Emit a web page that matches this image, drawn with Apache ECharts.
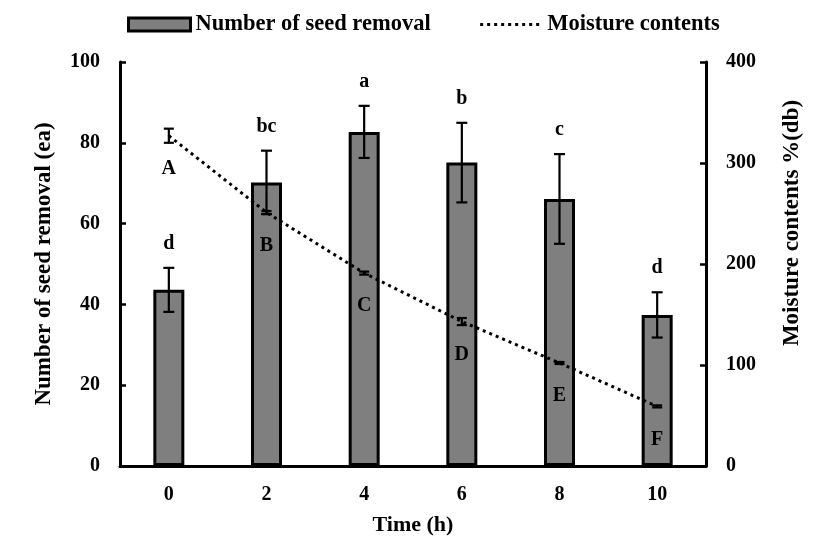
<!DOCTYPE html>
<html><head><meta charset="utf-8">
<script src="https://cdn.jsdelivr.net/npm/echarts@6/dist/echarts.min.js"></script>
<style>html,body{margin:0;padding:0;background:#fff}#c{width:827px;height:556px}</style>
</head><body><div id="c"></div>
<script>
const categories = ['0', '2', '4', '6', '8', '10'];
const seedRemoval = [43.6, 70.2, 82.7, 75.1, 66.1, 37.4];
const seedRemovalErr = [5.45, 7.85, 6.45, 9.85, 11.1, 5.6];
const seedLetters = ['d', 'bc', 'a', 'b', 'c', 'd'];
const moisture = [327, 251, 191, 143, 102, 59];
const moistureErr = [7, 1.5, 1.5, 3.5, 1, 1];
const moistureLetters = ['A', 'B', 'C', 'D', 'E', 'F'];
const leftTicks = [0, 20, 40, 60, 80, 100];
const rightTicks = [0, 100, 200, 300, 400];

const FF = '"Liberation Serif","Times New Roman",serif';
const chart = echarts.init(document.getElementById('c'));

function errRender(errArr, letters, below, cap) {
  return function (params, api) {
    const i = api.value(0), v = api.value(1), e = errArr[params.dataIndex];
    const top = api.coord([i, v + e]);
    const bot = api.coord([i, v - e]);
    const mid = api.coord([i, v]);
    const x = top[0];
    const ls = { stroke: '#000', lineWidth: 2.2 };
    const txtY = below ? mid[1] + 33 : top[1] - 24;
    return {
      type: 'group',
      children: [
        { type: 'line', shape: { x1: x, y1: top[1], x2: x, y2: bot[1] }, style: ls },
        { type: 'line', shape: { x1: x - cap, y1: top[1], x2: x + cap, y2: top[1] }, style: ls },
        { type: 'line', shape: { x1: x - cap, y1: bot[1], x2: x + cap, y2: bot[1] }, style: ls },
        { type: 'text', x: x, y: txtY, style: { text: letters[params.dataIndex], align: 'center', verticalAlign: 'middle', fontFamily: FF, fontWeight: 'bold', fontSize: 20, fill: '#000' } }
      ]
    };
  };
}

const axisLine = { show: true, lineStyle: { color: '#000', width: 3 } };

chart.setOption({
  animation: false,
  color: ['#7f7f7f', '#000'],
  textStyle: { fontFamily: FF },
  grid: { left: 120, right: 121, top: 62, bottom: 90 },
  legend: {
    data: [
      { name: 'Number of seed removal', icon: 'rect', itemStyle: { color: '#7f7f7f', borderColor: '#000', borderWidth: 3 } },
      { name: 'Moisture contents', itemStyle: { opacity: 0 }, lineStyle: { width: 3, color: '#000', type: [3, 4] } }
    ],
    left: 122, top: 8,
    itemWidth: 62, itemHeight: 13, itemGap: 48,
    textStyle: { fontFamily: FF, fontWeight: 'bold', fontSize: 22.5, color: '#000' }
  },
  xAxis: {
    type: 'category', data: categories,
    axisLine: axisLine, axisTick: { show: false },
    axisLabel: { color: '#000', fontFamily: FF, fontWeight: 'bold', fontSize: 20, margin: 19 },
    name: 'Time (h)', nameLocation: 'middle', nameGap: 48,
    nameTextStyle: { color: '#000', fontFamily: FF, fontWeight: 'bold', fontSize: 22 }
  },
  yAxis: [
    {
      type: 'value', min: 0, max: 100, interval: 20,
      axisLine: axisLine, splitLine: { show: false },
      axisTick: { show: true, inside: true, length: 6, lineStyle: { color: '#000', width: 2.5 } },
      axisLabel: { color: '#000', fontFamily: FF, fontWeight: 'bold', fontSize: 20, margin: 20,
        formatter: v => leftTicks.includes(v) ? String(v) : '' },
      name: 'Number of seed removal (ea)', nameLocation: 'middle', nameGap: 64, nameRotate: 90,
      nameTextStyle: { color: '#000', fontFamily: FF, fontWeight: 'bold', fontSize: 23 }
    },
    {
      type: 'value', min: 0, max: 400, interval: 100, position: 'right',
      axisLine: axisLine, splitLine: { show: false },
      axisTick: { show: true, inside: true, length: 6, lineStyle: { color: '#000', width: 2.5 } },
      axisLabel: { color: '#000', fontFamily: FF, fontWeight: 'bold', fontSize: 20, margin: 20,
        formatter: v => rightTicks.includes(v) ? String(v) : '' }
    }
  ],
  graphic: [{
    type: 'text', x: 792, y: 223, rotation: Math.PI / 2,
    style: { text: 'Moisture contents %(db)', align: 'center', verticalAlign: 'middle', fontFamily: FF, fontWeight: 'bold', fontSize: 23, fill: '#000' }
  }],
  series: [
    {
      name: 'Number of seed removal', type: 'bar', data: seedRemoval, barWidth: 31,
      itemStyle: { color: '#7f7f7f', borderColor: '#000', borderWidth: 3 }, z: 2
    },
    {
      name: 'Moisture contents', type: 'line', yAxisIndex: 1, data: moisture,
      symbol: 'none', itemStyle: { color: '#000' },
      lineStyle: { color: '#000', width: 3, type: [3, 4] }, z: 3
    },
    {
      type: 'custom', name: 'seedErr', yAxisIndex: 0,
      data: seedRemoval.map((v, i) => [i, v]),
      renderItem: errRender(seedRemovalErr, seedLetters, false, 5.5), z: 4, silent: true
    },
    {
      type: 'custom', name: 'moistErr', yAxisIndex: 1,
      data: moisture.map((v, i) => [i, v]),
      renderItem: errRender(moistureErr, moistureLetters, true, 5), z: 4, silent: true
    }
  ]
});
</script></body></html>
